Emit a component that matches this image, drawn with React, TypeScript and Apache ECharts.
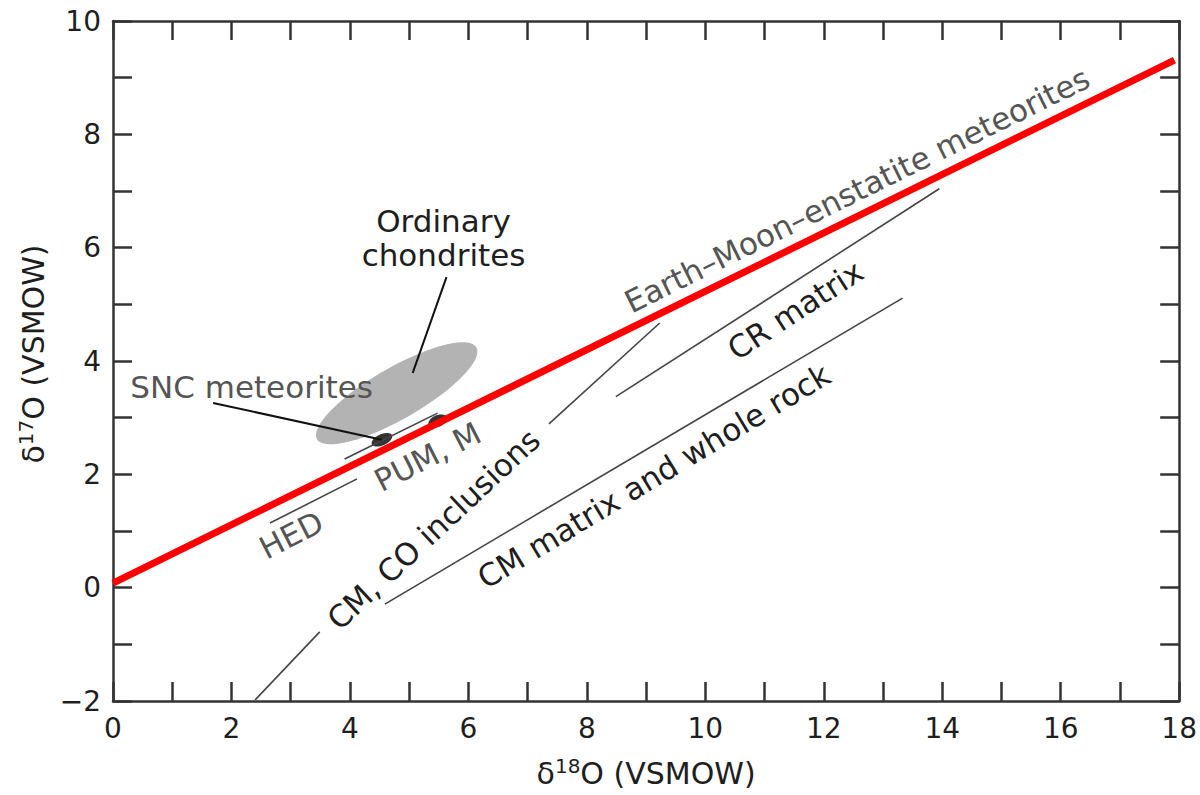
import React, { useEffect, useRef } from "react";
import * as echarts from "echarts";

// ---- axis ranges / ticks ----
const X_RANGE = [0, 18];
const Y_RANGE = [-2, 10];
const TICK_STEP = 1;
const LABEL_STEP = 2;

// ---- reference line (Earth–Moon–enstatite meteorites) ----
const earthMoonLine = [
  [0, 0.08],
  [17.92, 9.31],
];

// ---- thin fractionation / mixing lines ----
const hedLine = [
  [2.65, 1.14],
  [4.12, 1.92],
];
const pumLine = [
  [3.91, 2.27],
  [5.48, 3.08],
];
const cmCoLower = [
  [2.4, -1.98],
  [3.49, -0.78],
];
const cmCoUpper = [
  [7.36, 2.89],
  [9.23, 4.67],
];
const crMatrixLine = [
  [8.49, 3.37],
  [13.95, 7.04],
];
const cmMatrixLine = [
  [4.59, -0.29],
  [13.33, 5.11],
];

// ---- leader lines ----
const sncLeader = [
  [1.69, 3.26],
  [4.54, 2.61],
];
const ocLeader = [
  [5.63, 5.48],
  [5.06, 3.79],
];

// ---- fields: centre x, centre y, major-axis tip x, tip y, minor/major ratio ----
const ordinaryChondritesField = [4.79, 3.43, 6.135, 4.24, 0.28];
const sncField = [4.54, 2.61, 4.71, 2.69, 0.5];
const mField = [5.48, 2.94, 5.63, 3.01, 0.6];

// ---- annotation texts and anchors ----
const annotationTexts = [
  "Ordinary\nchondrites",
  "SNC meteorites",
  "HED",
  "PUM, M",
  "CM, CO inclusions",
  "CM matrix and whole rock",
  "CR matrix",
  "Earth–Moon–enstatite meteorites",
];
const annotationX = [5.58, 2.34, 3.01, 5.31, 5.41, 9.13, 11.52, 12.56];
const annotationY = [6.17, 3.54, 0.93, 2.31, 1.03, 1.97, 4.9, 7.02];

const FONT = "DejaVu Sans";
const DARK = "#1e1e1e";
const GRAY = "#555555";
const AXIS = "#333333";

export default function App() {
  const ref = useRef<HTMLDivElement>(null);

  useEffect(() => {
    if (!ref.current) return;
    const chart = echarts.init(ref.current, null, { renderer: "svg" });

    const annotationAngles = [0, 0, 27, 27, 43, 31, 33, 26.3];
    const annotationColors = [DARK, GRAY, GRAY, GRAY, DARK, DARK, DARK, GRAY];
    const fieldFills = ["#b3b3b3", "#333333", "#333333"];

    const fmtLabel = (v: number) => {
      if (Math.round(v) % LABEL_STEP !== 0) return "";
      return v < 0 ? "\u2212" + Math.abs(v) : String(v);
    };

    const axisName = (iso: string) => `{d|δ}{s|${iso}}{d|O (VSMOW)}`;
    const nameRich = {
      d: { fontSize: 30, fontFamily: FONT, color: DARK, lineHeight: 35 },
      s: {
        fontSize: 20,
        fontFamily: FONT,
        color: DARK,
        lineHeight: 35,
        verticalAlign: "top",
      },
    };

    const baseAxis = {
      interval: TICK_STEP,
      splitLine: { show: false },
      axisLine: { show: true, onZero: false, lineStyle: { color: AXIS, width: 2.5 } },
      axisTick: { show: true, inside: true, length: 19, lineStyle: { color: AXIS, width: 2.5 } },
    };

    const segment = (data: number[][], color: string, width: number, z = 3) => ({
      type: "line",
      data,
      symbol: "none",
      silent: true,
      z,
      lineStyle: { color, width },
    });

    const annotationRows = annotationTexts.map((_, i) => [annotationX[i], annotationY[i], i]);

    const option: any = {
      animation: false,
      grid: { left: 113, right: 20, top: 21, bottom: 94, containLabel: false },
      xAxis: [
        {
          ...baseAxis,
          type: "value",
          position: "bottom",
          min: X_RANGE[0],
          max: X_RANGE[1],
          axisLabel: {
            formatter: fmtLabel,
            fontSize: 28,
            fontFamily: FONT,
            color: DARK,
            margin: 13,
            showMaxLabel: true,
            showMinLabel: true,
          },
          name: axisName("18"),
          nameLocation: "middle",
          nameGap: 55,
          nameTextStyle: { rich: nameRich },
        },
        {
          ...baseAxis,
          type: "value",
          position: "top",
          min: X_RANGE[0],
          max: X_RANGE[1],
          axisLabel: { show: false },
        },
      ],
      yAxis: [
        {
          ...baseAxis,
          type: "value",
          position: "left",
          min: Y_RANGE[0],
          max: Y_RANGE[1],
          axisLabel: {
            formatter: fmtLabel,
            fontSize: 28,
            fontFamily: FONT,
            color: DARK,
            margin: 12,
            showMaxLabel: true,
            showMinLabel: true,
          },
          name: axisName("17"),
          nameLocation: "middle",
          nameRotate: 90,
          nameGap: 62,
          nameTextStyle: { rich: nameRich, padding: [0, 0, 0, 14] },
        },
        {
          ...baseAxis,
          type: "value",
          position: "right",
          min: Y_RANGE[0],
          max: Y_RANGE[1],
          axisLabel: { show: false },
        },
      ],
      series: [
        {
          type: "custom",
          silent: true,
          z: 1,
          data: [ordinaryChondritesField, sncField, mField],
          encode: { x: 0, y: 1 },
          renderItem: (params: any, api: any) => {
            const c = api.coord([api.value(0), api.value(1)]);
            const t = api.coord([api.value(2), api.value(3)]);
            const r = api.value(4);
            const ux = t[0] - c[0];
            const uy = t[1] - c[1];
            const vx = -uy * r;
            const vy = ux * r;
            const pts: number[][] = [];
            const n = 90;
            for (let k = 0; k < n; k++) {
              const th = (k / n) * Math.PI * 2;
              pts.push([
                c[0] + Math.cos(th) * ux + Math.sin(th) * vx,
                c[1] + Math.cos(th) * uy + Math.sin(th) * vy,
              ]);
            }
            return {
              type: "polygon",
              shape: { points: pts },
              style: { fill: fieldFills[params.dataIndex] },
            };
          },
        },
        segment(hedLine, "#444444", 1.6),
        segment(pumLine, "#444444", 1.6),
        segment(cmCoLower, "#444444", 1.6),
        segment(cmCoUpper, "#444444", 1.6),
        segment(crMatrixLine, "#444444", 1.6),
        segment(cmMatrixLine, "#444444", 1.6),
        segment(sncLeader, "#111111", 2),
        segment(ocLeader, "#111111", 2),
        segment(earthMoonLine, "#ff0000", 7, 10),
        {
          type: "custom",
          silent: true,
          z: 12,
          data: annotationRows,
          encode: { x: 0, y: 1 },
          renderItem: (params: any, api: any) => {
            const i = api.value(2);
            const p = api.coord([api.value(0), api.value(1)]);
            return {
              type: "text",
              x: p[0],
              y: p[1],
              rotation: (annotationAngles[i] * Math.PI) / 180,
              style: {
                text: annotationTexts[i],
                fill: annotationColors[i],
                fontSize: 31,
                fontFamily: FONT,
                lineHeight: 34,
                align: "center",
                verticalAlign: "middle",
              },
            };
          },
        },
      ],
    };

    chart.setOption(option);
    return () => chart.dispose();
  }, []);

  return (
    <div
      ref={ref}
      style={{ position: "fixed", left: 0, top: 0, width: 1200, height: 795, background: "#fff" }}
    />
  );
}
